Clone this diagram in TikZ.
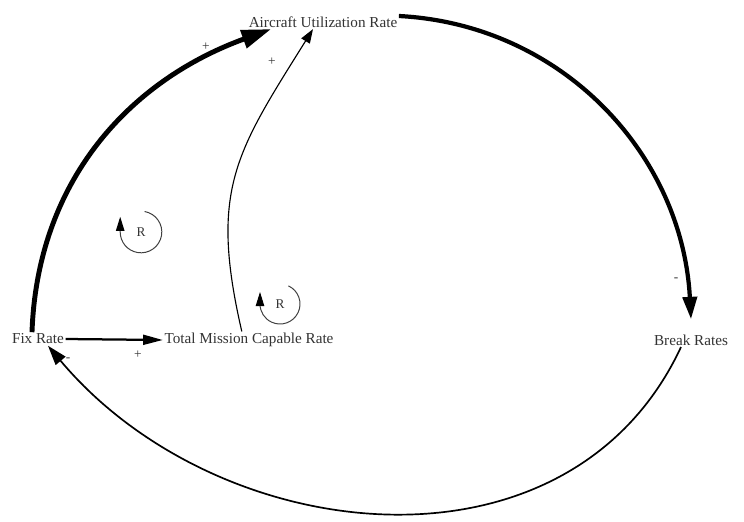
\documentclass[tikz,border=0pt]{standalone}
\usepackage{fontspec}
\setmainfont{Liberation Serif}
\usetikzlibrary{arrows.meta}

\begin{document}
\begin{tikzpicture}[x=0.025cm, y=0.025cm, >=Latex,
    every node/.style={font=\fontsize{10.8}{13}\selectfont, text=black!80, inner sep=1pt},
    sgn/.style={font=\fontsize{9.5}{10}\selectfont},
    loopsign/.style={font=\fontsize{9.5}{11}\selectfont}]
  \useasboundingbox (0,0) rectangle (744,521);
  \node (util) at (323,499) {Aircraft Utilization Rate};
  \node (fix) at (38,182) {Fix Rate};
  \node (tmcr) at (249,181) {Total Mission Capable Rate};
  \node (brk) at (691,181) {Break Rates};
  % links
  \draw[line width=3.5pt, -{Triangle[length=21pt,width=13pt]}] ([xshift=-0.15cm]fix.north) to[out=88, in=200] ([xshift=0.6cm]util.south west);
  \draw[line width=0.8pt, -{Triangle[length=10pt,width=7pt]}] ([xshift=-0.18cm]tmcr.north) to[out=103, in=238, looseness=1.2] ([xshift=-0.25cm]util.south);
  \draw[line width=3pt, -{Triangle[length=16pt,width=10pt]}] ([yshift=0.15cm]util.east) to[out=-3, in=93] ([yshift=0.34cm]brk.north);
  \draw[line width=1.2pt, -{Triangle[length=14pt,width=9pt]}] ([xshift=-0.25cm]brk.south) to[out=-115, in=-50, looseness=1.07] ([xshift=0.25cm]fix.south);
  \draw[line width=1.6pt, -{Triangle[length=14pt,width=7pt]}] (fix.east) -- (tmcr.west);
  \node[sgn] at (206,474) {+};
  \node[sgn] at (272,459) {+};
  \node[sgn] at (676,241) {-};
  \node[sgn] at (68,161) {-};
  \node[sgn] at (138,166) {+};
  % loops
  \node[loopsign] (r1) at (141,289) {R};
  \node[loopsign] (r2) at (280,217) {R};
  \draw[line width=0.7pt, black!75, -{Triangle[length=10pt,width=6pt,black]}] (r1) ++(80:0.52cm) arc[start angle=80, end angle=-180, radius=0.52cm] -- ++(0,0.38cm);
  \draw[line width=0.7pt, black!75, -{Triangle[length=10pt,width=6pt,black]}] (r2) ++(65:0.5cm) arc[start angle=65, end angle=-180, radius=0.5cm] -- ++(0,0.3cm);
\end{tikzpicture}
\end{document}
